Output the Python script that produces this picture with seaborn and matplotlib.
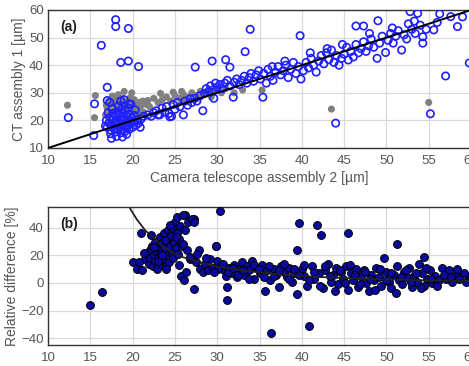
import numpy as np
import pandas as pd
import seaborn as sns
import matplotlib.pyplot as plt

# ---- panel (a): CT assembly 1 vs camera telescope assembly 2 ----
# gray points (before correction)
gray_x = [12.3, 15.5, 15.6, 16.8, 17.0, 17.2, 17.5, 17.8, 18.0, 18.2, 18.5, 18.7, 18.9,
          19.2, 19.4, 19.6, 19.9, 20.0, 20.2, 20.5, 20.8, 21.0, 21.3, 17.6, 18.3, 19.0,
          22.5, 23.0, 23.5, 24.0, 24.5, 25.0, 25.5, 26.0, 26.5, 27.0, 27.5, 28.0, 28.5,
          29.0, 29.5, 30.0, 30.5, 31.0, 32.0, 33.0, 35.3, 43.5, 55.0, 22.0, 21.8, 23.3,
          24.8, 26.2, 27.8, 29.3, 25.8, 16.9, 17.3, 17.9, 18.4, 18.8, 19.3, 19.7, 20.3,
          20.6, 21.2, 17.1, 18.6, 19.8, 20.9, 21.6]
gray_y = [25.5, 21.0, 29.0, 22.0, 24.5, 27.0, 25.8, 23.5, 27.5, 26.0, 24.5, 28.0, 25.5,
          27.0, 23.8, 26.5, 30.0, 25.0, 27.5, 24.0, 26.5, 25.5, 23.0, 28.8, 29.3, 30.5,
          28.0, 26.5, 27.5, 28.5, 27.0, 29.0, 28.0, 29.5, 28.5, 30.0, 29.0, 30.5, 29.5,
          31.0, 30.0, 31.5, 30.0, 31.5, 30.0, 31.0, 31.0, 24.1, 26.5, 25.0, 27.2, 29.8,
          30.2, 27.0, 28.0, 28.5, 30.5, 25.5, 23.0, 26.2, 27.8, 23.2, 25.0, 28.2, 25.8,
          22.5, 27.0, 21.5, 26.8, 22.8, 24.8, 25.8]

# blue open circles (after correction)
blue_x = [17.0, 17.2, 17.3, 17.4, 17.5, 17.6, 17.7, 17.8, 17.9, 18.0, 18.0, 18.1, 18.2,
          18.2, 18.3, 18.4, 18.4, 18.5, 18.5, 18.6, 18.6, 18.7, 18.7, 18.8, 18.8, 18.9,
          18.9, 19.0, 19.0, 19.1, 19.1, 19.2, 19.3, 19.3, 19.4, 19.5, 19.5, 19.6, 19.7,
          19.8, 19.9, 20.0, 20.1, 20.2, 20.4, 20.5, 20.7, 21.0, 16.9, 17.1, 17.6, 17.3,
          17.0, 18.3, 19.0, 19.8, 16.8, 17.4, 18.1, 17.5, 18.8, 19.3, 20.9, 20.3, 19.6,
          18.6, 21.3, 21.8, 22.2, 22.5, 22.8, 23.2, 23.5, 23.8, 24.0, 24.3, 24.4, 24.8,
          25.0, 25.3, 25.6, 26.0, 26.2, 26.5, 26.8, 27.0, 27.3, 27.6, 28.0, 28.3, 28.5,
          28.7, 29.0, 29.2, 29.5, 29.8, 30.0, 29.6, 30.3, 30.6, 30.9, 31.2, 31.5, 31.9,
          32.0, 32.3, 32.6, 32.9, 33.2, 33.5, 33.8, 34.0, 34.3, 34.6, 34.9, 35.1, 35.4,
          35.5, 35.8, 36.0, 36.3, 36.6, 36.9, 37.2, 37.5, 37.8, 38.1, 38.4, 38.7, 39.0,
          39.3, 39.6, 39.9, 40.2, 40.5, 40.8, 41.1, 41.4, 41.7, 42.0, 42.3, 42.6, 42.9,
          43.2, 43.5, 43.8, 44.1, 44.4, 44.7, 45.0, 45.3, 45.5, 45.8, 46.1, 46.4, 46.7,
          47.0, 47.3, 47.6, 47.9, 48.2, 48.5, 48.9, 49.2, 49.5, 49.9, 50.2, 50.5, 50.8,
          51.1, 51.4, 51.8, 52.1, 52.4, 52.8, 53.0, 53.4, 53.7, 54.0, 54.3, 54.3, 54.7,
          55.2, 55.6, 56.0, 56.3, 57.0, 57.6, 58.4, 59.0, 59.8, 49.0, 46.4, 47.3, 44.0,
          33.9, 33.3, 39.8, 27.4, 29.4, 31.0, 31.5, 18.0, 18.0, 19.5, 16.3, 18.6, 19.5,
          20.7, 17.0, 12.4, 15.5, 15.4, 23.0, 24.6, 36.5, 38.0, 41.0, 43.0, 44.8, 48.0,
          50.7, 52.6, 53.3]
blue_y = [17.5, 19.0, 21.0, 16.5, 18.2, 20.2, 22.5, 17.0, 19.5, 15.8, 21.5, 18.3, 20.0,
          23.0, 16.8, 19.0, 22.0, 17.5, 20.5, 15.5, 18.5, 21.2, 24.0, 16.5, 19.8, 17.8,
          22.5, 18.8, 20.8, 16.0, 23.5, 19.3, 17.2, 21.5, 18.0, 20.0, 24.5, 16.8, 22.0,
          18.7, 20.8, 17.5, 19.5, 21.8, 18.3, 20.2, 19.0, 20.5, 20.0, 22.8, 24.2, 26.5,
          27.2, 25.2, 27.5, 25.8, 18.0, 15.2, 14.2, 13.5, 14.0, 15.0, 17.5, 23.8, 26.0,
          27.0, 21.5, 22.0, 21.5, 22.8, 23.5, 22.0, 24.5, 23.0, 25.0, 22.5, 21.3, 25.8,
          24.0, 26.5, 25.0, 22.0, 27.0, 25.5, 27.8, 26.5, 28.0, 27.0, 29.0, 23.5, 29.8,
          31.5, 30.5, 32.5, 31.0, 33.5, 32.0, 28.0, 33.0, 31.5, 33.5, 34.5, 32.5, 28.4,
          33.8, 35.0, 33.0, 34.5, 36.0, 33.5, 35.5, 37.0, 34.2, 36.5, 38.0, 35.0, 28.4,
          37.0, 33.5, 38.5, 36.0, 34.5, 37.5, 39.5, 36.5, 38.0, 40.0, 35.5, 38.5, 41.0,
          37.0, 39.5, 35.0, 38.0, 41.0, 39.0, 42.5, 40.0, 37.5, 41.5, 43.5, 40.5, 44.5,
          42.0, 45.5, 41.0, 43.5, 40.0, 42.5, 44.0, 46.5, 41.9, 45.0, 43.0, 47.5, 44.5,
          46.0, 48.5, 45.0, 47.0, 49.5, 46.5, 42.5, 48.0, 50.5, 44.6, 49.0, 51.5, 48.0,
          50.5, 52.5, 45.5, 51.0, 49.5, 59.4, 53.0, 51.5, 58.8, 54.5, 50.3, 48.0, 53.0,
          22.4, 52.8, 55.5, 58.6, 36.1, 57.6, 54.0, 57.5, 40.8, 56.1, 54.2, 54.2, 19.0,
          53.0, 44.9, 50.7, 39.3, 41.5, 42.0, 39.3, 56.5, 54.0, 53.3, 47.2, 41.0, 41.5,
          39.5, 32.0, 21.0, 26.0, 14.5, 22.0, 21.5, 39.5, 41.5, 44.5, 46.0, 47.5, 51.5,
          53.5, 55.0, 56.0]

# identity line
line_a_x = [10, 60]
line_a_y = [10, 60]

# ---- panel (b): relative difference ----
rel_x = [15.0, 16.4, 21.0, 20.1, 20.5, 21.1, 29.8, 26.2, 27.2,
         21.5, 21.7, 21.9, 22.0, 22.1, 22.3, 22.4, 22.5, 22.6, 22.7, 22.8, 22.9, 23.0,
         23.1, 23.2, 23.3, 23.4, 23.5, 23.6, 23.7, 23.8, 23.9, 24.0, 24.1, 24.2, 24.3,
         24.4, 24.5, 24.6, 24.7, 24.8, 24.9, 25.0, 25.1, 25.2, 25.3, 25.4, 25.5, 25.6,
         25.7, 25.8, 26.0, 26.1, 26.2, 26.3, 26.4, 26.6, 26.8, 27.0, 27.2, 27.3, 27.5,
         27.8, 28.0, 28.3, 28.6, 28.9, 29.2, 29.5, 29.8, 30.0, 30.3, 30.5, 30.8, 31.0,
         31.1, 31.1, 31.4, 31.7, 32.0, 32.3, 32.6, 32.9, 33.2, 33.5, 33.8, 34.1, 34.4,
         34.7, 35.0, 35.3, 35.6, 35.9, 36.2, 36.4, 36.7, 37.0, 37.3, 37.6, 37.9, 38.2,
         38.5, 38.8, 39.1, 39.4, 39.4, 39.7, 40.0, 40.3, 40.6, 40.9, 41.2, 41.5, 41.8,
         42.0, 42.3, 42.5, 42.8, 43.1, 43.4, 43.7, 44.0, 44.3, 44.6, 44.9, 45.2, 45.5,
         45.5, 45.8, 46.1, 46.4, 46.7, 47.0, 47.3, 47.6, 47.9, 48.2, 48.5, 48.8, 49.1,
         49.4, 49.7, 50.0, 50.3, 50.6, 50.9, 51.2, 51.3, 51.5, 51.8, 52.1, 52.4, 52.7,
         53.0, 53.3, 53.6, 53.9, 54.2, 54.4, 54.5, 54.8, 55.1, 55.4, 55.8, 56.2, 56.6,
         57.0, 57.4, 57.8, 58.2, 58.6, 59.2, 59.7, 60.0,
         30.1, 30.7, 31.3, 31.9, 32.5, 33.1, 33.7, 34.3, 34.9, 35.5, 36.1, 36.7, 37.3,
         37.9, 38.5, 39.1, 39.7, 40.3, 40.9, 41.5, 42.1, 42.7, 43.3, 43.9, 44.5, 45.1,
         45.7, 46.3, 46.9, 47.5, 48.1, 48.7, 49.3, 49.9, 50.5, 51.1, 51.7, 52.3, 52.9,
         53.5, 54.1, 54.7, 55.3, 56.0, 56.8, 57.6, 58.4, 59.4,
         22.2, 23.0, 23.8, 24.4, 25.1, 25.9, 26.8, 27.6, 28.7, 29.6, 24.0, 22.5, 23.5,
         25.5, 21.3, 20.8]
rel_y = [-15.8, -6.7, 36.0, 15.1, 9.8, 9.0, 27.0, 49.0, 46.0,
         17, 21, 14, 24, 18, 27, 12, 20, 30, 16, 23, 10, 26,
         19, 33, 14, 22, 29, 17, 36, 25, 12, 31, 20, 38, 15,
         27, 34, 22, 40, 18, 29, 44, 25, 36, 48, 21, 32, 41,
         5, 27, 49.5, 2, 38, 8, 24, 44, 17, 46, -4.5, 44, 15,
         24, 10, 8, 14, 9, 17, 11, 27, 16, 51.8, 12, 9, 5,
         -2.9, -12.2, 11, 7, 13, 4, 10, 15, 6, 12, 9, 16, 3,
         11, 7, 13, -6, 9, 2, -36.2, 10, 6, -3, 12, 8, 4,
         11, 1, 7, 24.2, -8, 43.4, 10, 5, -2, -31.4, 12, 3, 41.7,
         7, 35, -4, 9, 14, 1, 6, 11, -1, 8, 3, 12, 36.2,
         -5, 7, 2, 10, -3, 5, 9, 0, -6, 6, 2, 11, 4,
         -2, 18, 8, 1, -4, 6, 12, 28.3, 2, -1, 8, 4, 11,
         -3, 5, 1, 14, 7, 19, -2, 3, 9, 0, 5, 2, 11,
         3, 9, 1, 6, 3, 7, 2, 5,
         10, 14, 8, 11, 6, 9, 3, 13, 10, 4, 12, 5, 9,
         14, 3, 10, 6, 13, 2, 8, -2, 12, 5, -6, 9, 0,
         13, 6, -1, 8, 3, -5, 10, 2, 7, -7, 4, 9, 1,
         7, -4, 11, 3, -2, 6, 4, 10, 1,
         35, 16, 31, 42, 33, 28, 19, 21, 18, 8, 10, 26, 20,
         13, 22, 15]

# fitted trend curve
line_b_x = [19.7, 20.5, 21.5, 22.5, 23.5, 24.8, 26.0, 28.0, 30.0, 32.0, 35.0, 38.0,
            42.0, 46.0, 50.0, 55.0, 60.0]
line_b_y = [54.0, 46.0, 38.0, 32.5, 26.5, 21.8, 18.5, 15.0, 12.0, 10.0, 7.5, 5.8,
            4.3, 3.3, 2.5, 1.8, 1.4]

TEXT = '#555555'

sns.set_theme(style="whitegrid", rc={
    'grid.color': '#d9d9d9', 'grid.linewidth': 0.9,
    'axes.edgecolor': '#333333', 'axes.linewidth': 1.0,
    'xtick.color': TEXT, 'ytick.color': TEXT,
    'axes.labelcolor': TEXT, 'text.color': TEXT,
})
plt.rcParams['font.family'] = ['Liberation Sans', 'DejaVu Sans']

fig = plt.figure(figsize=(4.69, 3.66), dpi=100)
ax1 = fig.add_axes([48 / 469, 1 - 148 / 366, 423 / 469, 138 / 366])
ax2 = fig.add_axes([48 / 469, 1 - 345 / 366, 423 / 469, 138 / 366])

df_gray = pd.DataFrame({'x': gray_x, 'y': gray_y})
df_blue = pd.DataFrame({'x': blue_x, 'y': blue_y})
df_rel = pd.DataFrame({'x': rel_x, 'y': rel_y})

# panel (a)
sns.scatterplot(data=df_gray, x='x', y='y', ax=ax1, color='#808080', s=26,
                edgecolor='none', zorder=3)
sns.scatterplot(data=df_blue, x='x', y='y', ax=ax1, facecolor='none',
                edgecolor='#1f1fff', linewidth=1.2, s=28, zorder=4)
sns.lineplot(x=line_a_x, y=line_a_y, ax=ax1, color='black', linewidth=1.4, zorder=5)
ax1.set_xlim(10, 60)
ax1.set_ylim(10, 60)
ax1.set_xticks(range(10, 61, 5))
ax1.set_yticks(range(10, 61, 10))
ax1.set_xlabel('Camera telescope assembly 2 [µm]', fontsize=10, labelpad=3)
ax1.set_ylabel('CT assembly 1 [µm]', fontsize=10, labelpad=2)
ax1.text(0.03, 0.93, '(a)', transform=ax1.transAxes, fontsize=10,
         fontweight='bold', color='#222222', va='top', zorder=6)

# panel (b)
sns.scatterplot(data=df_rel, x='x', y='y', ax=ax2, color='#0a0aa0', s=32,
                edgecolor='black', linewidth=0.7, zorder=3)
sns.lineplot(x=line_b_x, y=line_b_y, ax=ax2, color='#222222', linewidth=1.3, zorder=4)
ax2.set_xlim(10, 60)
ax2.set_ylim(-45, 55)
ax2.set_xticks(range(10, 61, 5))
ax2.set_yticks(range(-40, 41, 20))
ax2.set_xlabel('')
ax2.set_ylabel('Relative difference [%]', fontsize=10, labelpad=2)
ax2.text(0.03, 0.93, '(b)', transform=ax2.transAxes, fontsize=10,
         fontweight='bold', color='#222222', va='top', zorder=6)

for ax in (ax1, ax2):
    ax.tick_params(axis='both', labelsize=9.5, direction='in', length=3,
                   width=0.8, color='#333333')
    ax.tick_params(axis='x', pad=5)
    ax.tick_params(axis='y', pad=3)
    ax.set_axisbelow(True)

fig.savefig('out.png', dpi=100)
